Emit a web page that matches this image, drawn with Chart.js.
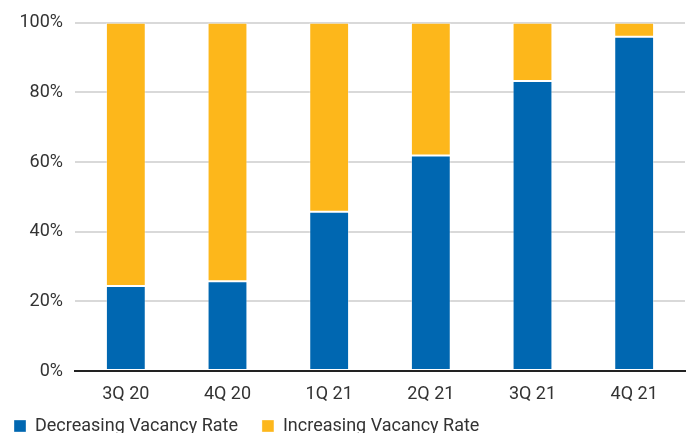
<!DOCTYPE html>
<html>
<head>
<meta charset="utf-8">
<script src="https://cdn.jsdelivr.net/npm/chart.js@4/dist/chart.umd.min.js"></script>
<style>
  html, body { margin: 0; padding: 0; background: #fff; }
  #wrap { width: 686px; height: 433px; overflow: hidden; }
</style>
</head>
<body>
<div id="wrap"><canvas id="c" width="686" height="457"></canvas></div>
<script>
// Share of markets by vacancy-rate direction, per quarter
const quarters = ['3Q 20', '4Q 20', '1Q 21', '2Q 21', '3Q 21', '4Q 21'];
const decreasing = [24.4, 25.8, 45.7, 61.9, 83.3, 96.0];
const increasing = [75.6, 74.2, 54.3, 38.1, 16.7, 4.0];
const yTicks = [0, 20, 40, 60, 80, 100];

const BLUE = '#0067b1';
const GOLD = '#fdb71b';
const TEXT = '#333333';
const FONT = "'Roboto', 'Liberation Sans', sans-serif";

// Pull the legend row up closer to the category labels
const legendLift = {
  id: 'legendLift',
  afterLayout(chart) {
    if (chart.legend) {
      chart.legend.top -= 12;
      chart.legend.bottom -= 12;
    }
  }
};

new Chart(document.getElementById('c'), {
  type: 'bar',
  data: {
    labels: quarters,
    datasets: [
      { label: 'Decreasing Vacancy Rate', data: decreasing, backgroundColor: BLUE,
        borderColor: 'rgba(255,255,255,0.35)', borderWidth: 1, borderSkipped: false,
        barPercentage: 0.8, categoryPercentage: 0.49 },
      { label: 'Increasing Vacancy Rate', data: increasing, backgroundColor: GOLD,
        borderColor: 'rgba(255,255,255,0.35)', borderWidth: 1, borderSkipped: false,
        barPercentage: 0.8, categoryPercentage: 0.49 }
    ]
  },
  plugins: [legendLift],
  options: {
    responsive: false,
    animation: false,
    devicePixelRatio: 1,
    layout: { padding: { top: 12, right: 1, left: -10, bottom: 0 } },
    plugins: {
      tooltip: { enabled: false },
      legend: {
        position: 'bottom',
        align: 'start',
        labels: {
          color: TEXT,
          font: { family: FONT, size: 18 },
          boxWidth: 12,
          boxHeight: 12,
          padding: 24,
          useBorderRadius: false
        }
      }
    },
    scales: {
      x: {
        stacked: true,
        afterFit: (axis) => { axis.height = 34; },
        grid: { display: false, drawTicks: false },
        border: { display: true, color: '#222', width: 2 },
        ticks: { color: TEXT, font: { family: FONT, size: 18 }, padding: 13 }
      },
      y: {
        stacked: true,
        min: 0,
        max: 100,
        afterBuildTicks: (axis) => { axis.ticks = yTicks.map(v => ({ value: v })); },
        afterFit: (axis) => { axis.width = 85; },
        grid: { color: '#d9d9d9', lineWidth: 2, drawTicks: false },
        border: { display: false },
        ticks: {
          color: TEXT,
          font: { family: FONT, size: 18 },
          padding: 12,
          callback: (v) => v + '%'
        }
      }
    }
  }
});
</script>
</body>
</html>
